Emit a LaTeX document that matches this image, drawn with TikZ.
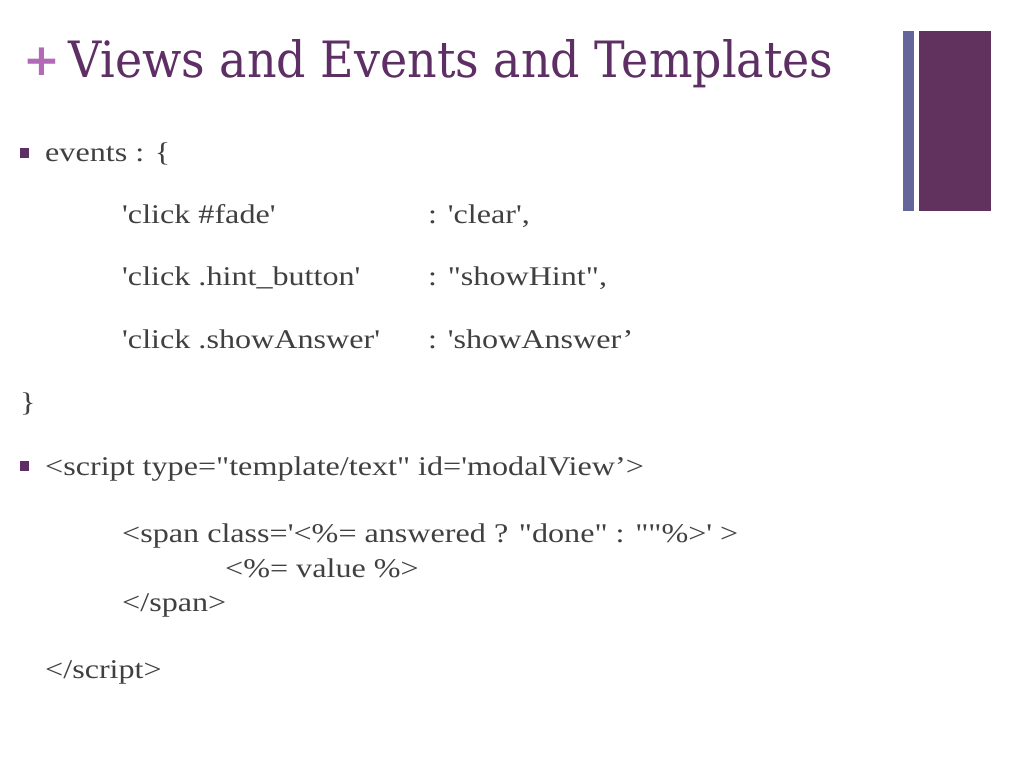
\documentclass[tikz,border=0pt]{standalone}
\usepackage{fontspec}
\usepackage{graphicx}
\newfontfamily\bodyfont{Liberation Serif}
\newfontfamily\titlefont{DejaVu Serif}
\newfontfamily\plusfont{DejaVu Sans}
\definecolor{titlepurple}{HTML}{5E2F64}
\definecolor{pluspink}{HTML}{B26AB8}
\definecolor{barblue}{HTML}{64669B}
\definecolor{barpurple}{HTML}{62325F}
\definecolor{bodygray}{HTML}{404040}
\definecolor{bulletpurple}{HTML}{5E2F64}
\newcommand{\bl}[1]{\scalebox{1.19}[1]{#1}}
\tikzset{
  bodytext/.style={inner sep=0pt, anchor=base west, text=bodygray, font=\bodyfont\fontsize{27}{32}\selectfont},
  bulletsq/.style={fill=bulletpurple, draw=none},
  bar/.style={draw=none}
}
\begin{document}
\begin{tikzpicture}[x=1pt,y=-1pt]
\useasboundingbox (0,0) rectangle (1024,768);
\fill[white] (0,0) rectangle (1024,768);
% side bars
\fill[bar, barblue] (903,31) rectangle (914,211);
\fill[bar, barpurple] (919,31) rectangle (991,211);
% title
\node[inner sep=0pt, text=pluspink, font=\plusfont\bfseries\fontsize{44}{50}\selectfont] (plus) at (42,62) {+};
\node[inner sep=0pt, anchor=base west, text=titlepurple] (title) at (68,77) {\resizebox{765pt}{38pt}{\titlefont Views and Events and Templates}};
% bullet 1
\fill[bulletsq] (20,148) rectangle (29,158);
\node[bodytext] (events) at (45,161) {\bl{events : \{}};
\node[bodytext] (k1) at (122,223) {\bl{'click \#fade'}};
\node[bodytext] (v1) at (428,223) {\bl{: 'clear',}};
\node[bodytext] (k2) at (122,285) {\bl{'click .hint\_button'}};
\node[bodytext] (v2) at (428,285) {\bl{: "showHint",}};
\node[bodytext] (k3) at (122,348) {\bl{'click .showAnswer'}};
\node[bodytext] (v3) at (428,348) {\bl{: 'showAnswer’}};
\node[bodytext] (close) at (20,411) {\bl{\}}};
% bullet 2
\fill[bulletsq] (20,461) rectangle (29,471);
\node[bodytext] (script) at (45,475) {\bl{<script type="template/text" id='modalView’>}};
\node[bodytext] (span) at (122,542) {\bl{<span class='<\%= answered ? "done" : ""\%>' >}};
\node[bodytext] (value) at (225,577) {\bl{<\%= value \%>}};
\node[bodytext] (spanend) at (122,611) {\bl{</span>}};
\node[bodytext] (scriptend) at (45,678) {\bl{</script>}};
\end{tikzpicture}
\end{document}
